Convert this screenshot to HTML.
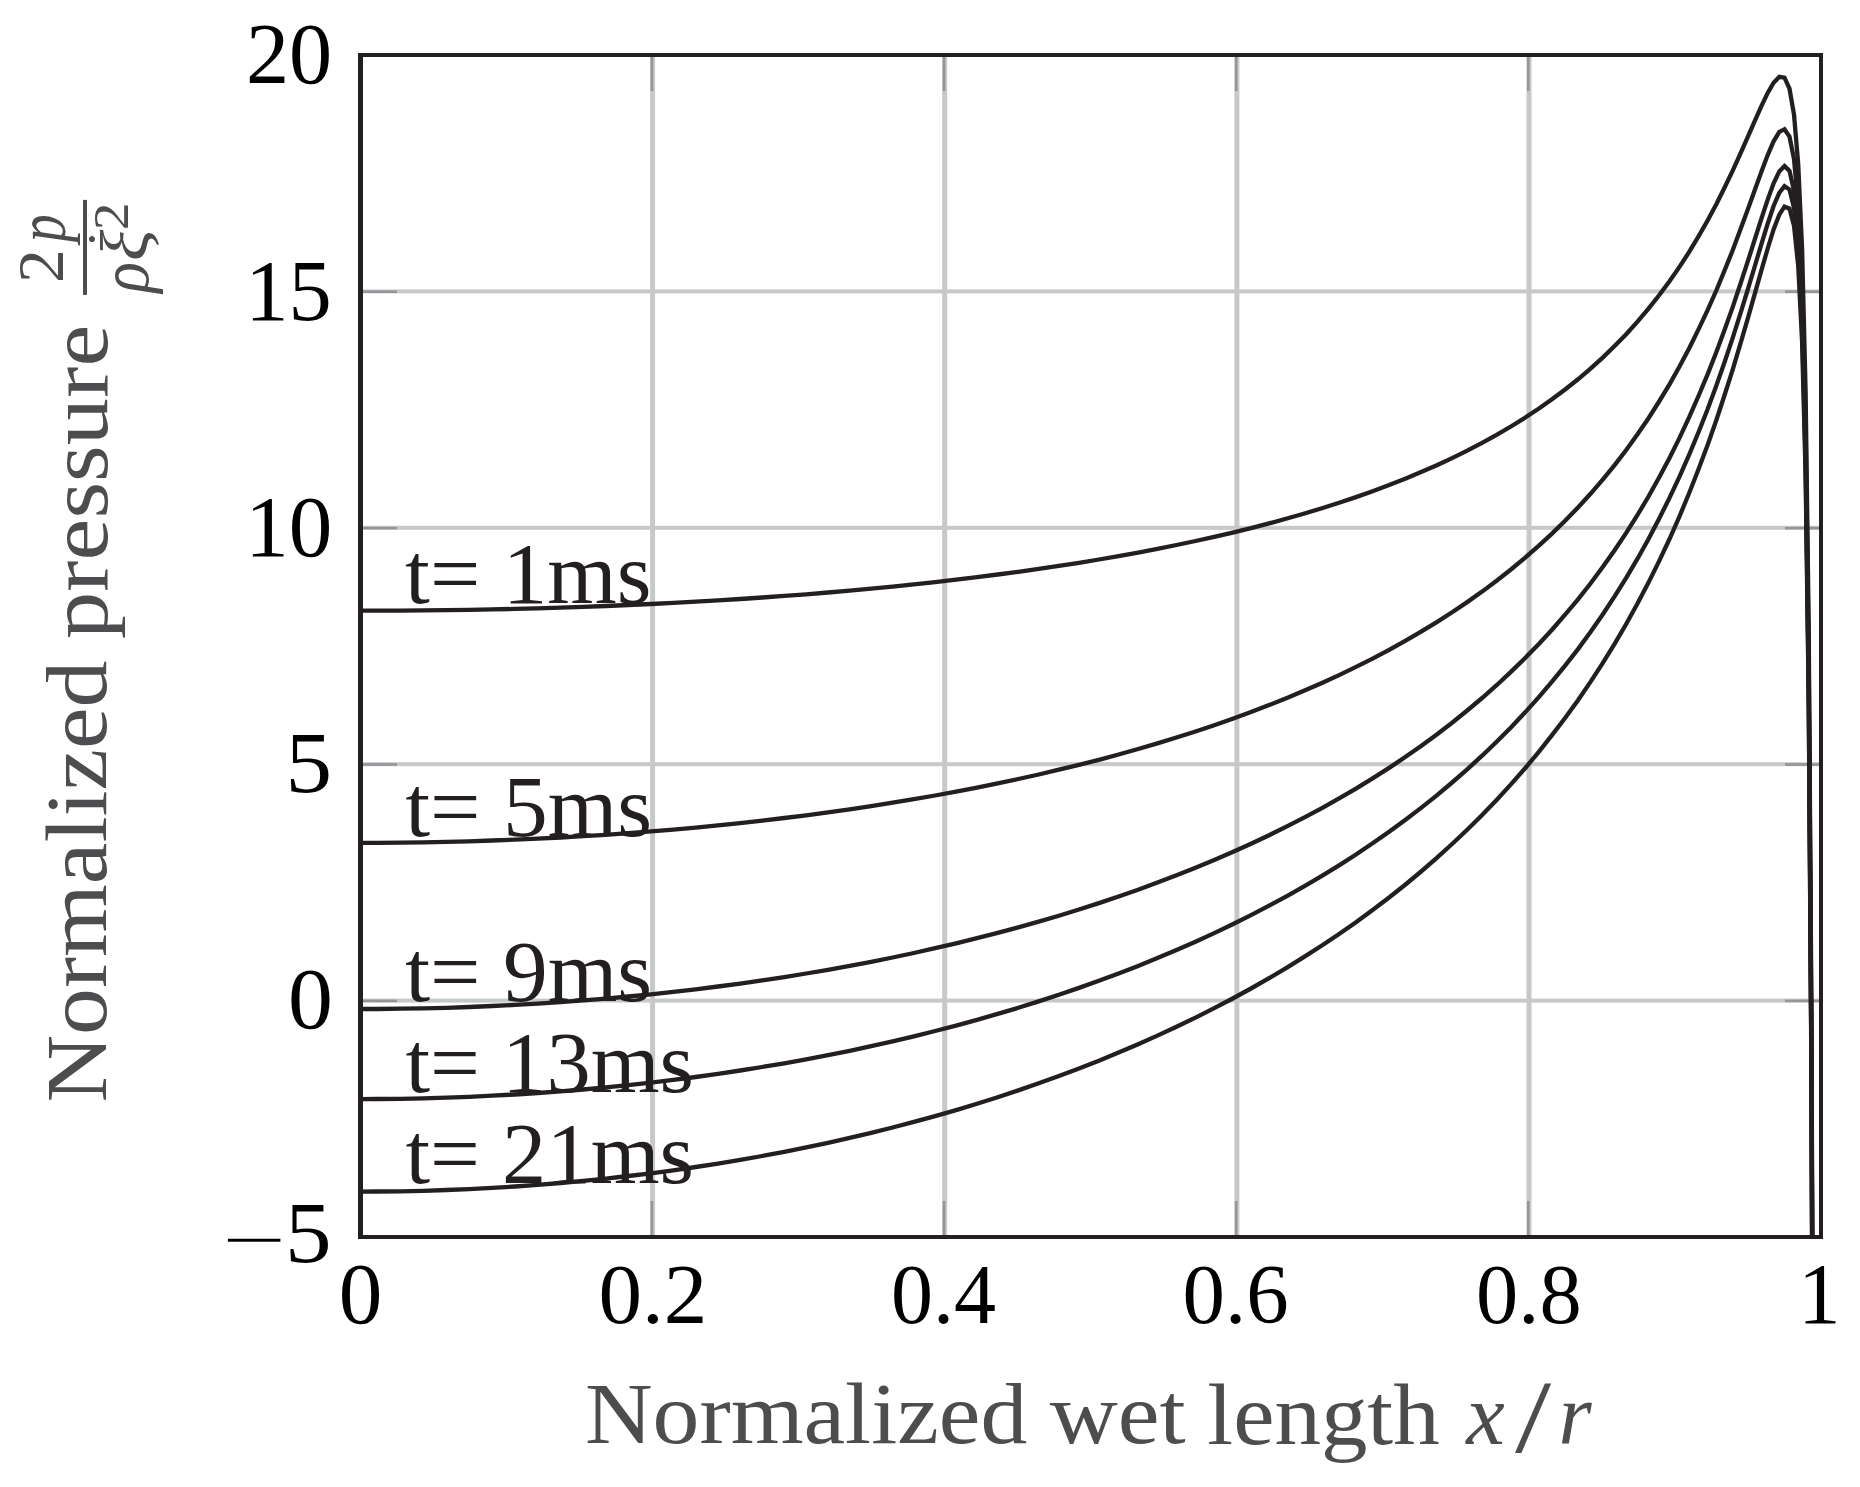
<!DOCTYPE html>
<html lang="en"><head><meta charset="utf-8"><title>Normalized pressure vs normalized wet length</title>
<style>
html,body{margin:0;padding:0;background:#fff}
svg{display:block}
text{font-family:'Liberation Serif', serif;white-space:pre}
.i{font-style:italic}
</style></head><body>
<svg width="1860" height="1487" viewBox="0 0 1860 1487">
<rect width="1860" height="1487" fill="#fff"/>
<defs><clipPath id="pa"><rect x="358" y="53" width="1465" height="1186"/></clipPath></defs>
<g fill="#c7c8ca"><rect x="650.1" y="55" width="5" height="1182"/><rect x="942.2" y="55" width="5" height="1182"/><rect x="1234.4" y="55" width="5" height="1182"/><rect x="1526.5" y="55" width="5" height="1182"/><rect x="360" y="289.4" width="1461" height="4"/><rect x="360" y="525.8" width="1461" height="4"/><rect x="360" y="762.2" width="1461" height="4"/><rect x="360" y="998.6" width="1461" height="4"/></g>
<g fill="#939598"><rect x="650.6" y="56" width="2.6" height="35.0"/><rect x="650.6" y="1201.0" width="2.6" height="35.0"/><rect x="942.7" y="56" width="2.6" height="35.0"/><rect x="942.7" y="1201.0" width="2.6" height="35.0"/><rect x="1234.9" y="56" width="2.6" height="35.0"/><rect x="1234.9" y="1201.0" width="2.6" height="35.0"/><rect x="1527.0" y="56" width="2.6" height="35.0"/><rect x="1527.0" y="1201.0" width="2.6" height="35.0"/><rect x="362" y="290.4" width="35.0" height="2.6"/><rect x="1785.0" y="290.4" width="35.0" height="2.6"/><rect x="362" y="526.8" width="35.0" height="2.6"/><rect x="1785.0" y="526.8" width="35.0" height="2.6"/><rect x="362" y="763.2" width="35.0" height="2.6"/><rect x="1785.0" y="763.2" width="35.0" height="2.6"/><rect x="362" y="999.6" width="35.0" height="2.6"/><rect x="1785.0" y="999.6" width="35.0" height="2.6"/></g>
<g><text transform="matrix(1.0388 0 0 1.0101 405.11 602.83)" font-size="86" fill="#231f20">t= 1ms</text><text transform="matrix(1.0409 0 0 1.0151 405.20 835.83)" font-size="86" fill="#231f20">t= 5ms</text><text transform="matrix(1.0409 0 0 1.0051 405.20 1000.94)" font-size="86" fill="#231f20">t= 9ms</text><text transform="matrix(1.0299 0 0 1.0051 405.41 1091.64)" font-size="86" fill="#231f20">t= 13ms</text><text transform="matrix(1.0299 0 0 1.0051 405.41 1183.44)" font-size="86" fill="#231f20">t= 21ms</text></g>
<g clip-path="url(#pa)" fill="none" stroke="#231f20" stroke-width="4.3" stroke-linejoin="miter" stroke-miterlimit="10"><polyline points="360.4,610.7 377.5,610.7 400.4,610.6 423.4,610.4 446.3,610.2 469.2,609.8 492.0,609.4 514.9,608.9 537.7,608.3 560.4,607.6 583.1,606.8 605.8,606.0 628.3,605.0 650.9,604.0 673.3,602.9 695.7,601.7 718.0,600.4 740.2,599.0 762.3,597.5 784.3,595.9 806.2,594.3 828.0,592.5 849.7,590.6 871.2,588.6 892.6,586.6 913.9,584.4 935.1,582.1 956.1,579.7 977.0,577.2 997.7,574.5 1018.3,571.8 1038.7,568.9 1058.9,565.9 1079.0,562.8 1098.9,559.5 1118.6,556.1 1138.1,552.6 1157.4,548.9 1176.5,545.0 1195.5,541.0 1214.2,536.9 1232.7,532.6 1251.0,528.1 1269.1,523.4 1286.9,518.5 1304.5,513.5 1321.9,508.2 1339.1,502.8 1356.0,497.1 1372.6,491.2 1389.1,485.1 1405.2,478.7 1421.1,472.1 1436.8,465.3 1452.1,458.1 1467.2,450.7 1482.1,442.9 1496.6,434.9 1510.9,426.5 1524.9,417.8 1538.6,408.8 1552.0,399.3 1565.1,389.5 1578.0,379.3 1590.5,368.7 1602.7,357.6 1614.6,346.1 1626.2,334.2 1637.5,321.7 1648.5,308.7 1659.1,295.3 1669.5,281.3 1679.5,266.9 1689.2,251.9 1698.5,236.4 1707.6,220.5 1716.3,204.2 1724.6,187.5 1732.7,170.7 1740.3,153.8 1747.7,137.1 1754.7,121.1 1761.4,106.1 1767.7,92.9 1773.6,82.7 1779.3,76.9 1784.5,77.7 1789.5,88.6 1794.0,114.6 1798.2,163.8 1802.1,248.8 1805.6,390.8 1808.7,626.2 1811.5,1021.7 1814.0,1706.9 1816.0,2891.8 1817.7,2891.8 1819.1,2891.8 1820.1,2891.8 1820.7,2891.8"/><polyline points="360.4,842.8 377.5,842.8 400.4,842.6 423.4,842.3 446.3,841.8 469.2,841.3 492.0,840.5 514.9,839.7 537.7,838.6 560.4,837.5 583.1,836.2 605.8,834.8 628.3,833.2 650.9,831.4 673.3,829.6 695.7,827.6 718.0,825.4 740.2,823.1 762.3,820.6 784.3,818.0 806.2,815.3 828.0,812.4 849.7,809.3 871.2,806.1 892.6,802.7 913.9,799.2 935.1,795.5 956.1,791.6 977.0,787.6 997.7,783.4 1018.3,779.0 1038.7,774.5 1058.9,769.7 1079.0,764.8 1098.9,759.8 1118.6,754.5 1138.1,749.0 1157.4,743.4 1176.5,737.5 1195.5,731.5 1214.2,725.2 1232.7,718.7 1251.0,712.0 1269.1,705.1 1286.9,698.0 1304.5,690.6 1321.9,683.0 1339.1,675.1 1356.0,666.9 1372.6,658.6 1389.1,649.9 1405.2,640.9 1421.1,631.7 1436.8,622.1 1452.1,612.3 1467.2,602.1 1482.1,591.6 1496.6,580.7 1510.9,569.5 1524.9,557.9 1538.6,545.9 1552.0,533.6 1565.1,520.8 1578.0,507.5 1590.5,493.8 1602.7,479.7 1614.6,465.1 1626.2,450.0 1637.5,434.3 1648.5,418.2 1659.1,401.5 1669.5,384.3 1679.5,366.5 1689.2,348.2 1698.5,329.4 1707.6,310.2 1716.3,290.5 1724.6,270.4 1732.7,250.2 1740.3,229.8 1747.7,209.7 1754.7,190.2 1761.4,171.7 1767.7,155.1 1773.6,141.3 1779.3,131.9 1784.5,129.2 1789.5,136.6 1794.0,159.0 1798.2,204.6 1802.1,286.0 1805.6,424.4 1808.7,656.2 1811.5,1048.1 1814.0,1729.7 1816.0,2891.8 1817.7,2891.8 1819.1,2891.8 1820.1,2891.8 1820.7,2891.8"/><polyline points="360.4,1009.0 377.5,1009.0 400.4,1008.7 423.4,1008.3 446.3,1007.8 469.2,1007.0 492.0,1006.0 514.9,1004.9 537.7,1003.6 560.4,1002.1 583.1,1000.4 605.8,998.6 628.3,996.5 650.9,994.3 673.3,991.9 695.7,989.3 718.0,986.5 740.2,983.6 762.3,980.4 784.3,977.1 806.2,973.5 828.0,969.8 849.7,965.9 871.2,961.8 892.6,957.5 913.9,953.0 935.1,948.2 956.1,943.3 977.0,938.2 997.7,932.9 1018.3,927.4 1038.7,921.6 1058.9,915.7 1079.0,909.5 1098.9,903.1 1118.6,896.5 1138.1,889.7 1157.4,882.6 1176.5,875.3 1195.5,867.8 1214.2,860.0 1232.7,852.0 1251.0,843.7 1269.1,835.2 1286.9,826.4 1304.5,817.4 1321.9,808.1 1339.1,798.4 1356.0,788.6 1372.6,778.4 1389.1,767.9 1405.2,757.1 1421.1,745.9 1436.8,734.5 1452.1,722.7 1467.2,710.5 1482.1,698.0 1496.6,685.2 1510.9,671.9 1524.9,658.2 1538.6,644.2 1552.0,629.7 1565.1,614.7 1578.0,599.3 1590.5,583.5 1602.7,567.1 1614.6,550.2 1626.2,532.9 1637.5,515.0 1648.5,496.5 1659.1,477.5 1669.5,458.0 1679.5,437.9 1689.2,417.2 1698.5,396.0 1707.6,374.4 1716.3,352.3 1724.6,329.8 1732.7,307.1 1740.3,284.3 1747.7,261.7 1754.7,239.7 1761.4,218.7 1767.7,199.6 1773.6,183.3 1779.3,171.4 1784.5,166.1 1789.5,170.9 1794.0,190.8 1798.2,233.8 1802.1,312.7 1805.6,448.5 1808.7,677.7 1811.5,1067.0 1814.0,1746.0 1816.0,2891.8 1817.7,2891.8 1819.1,2891.8 1820.1,2891.8 1820.7,2891.8"/><polyline points="360.4,1099.1 377.5,1099.0 400.4,1098.8 423.4,1098.3 446.3,1097.7 469.2,1096.8 492.0,1095.7 514.9,1094.5 537.7,1093.0 560.4,1091.3 583.1,1089.5 605.8,1087.4 628.3,1085.1 650.9,1082.6 673.3,1079.9 695.7,1077.0 718.0,1073.9 740.2,1070.5 762.3,1067.0 784.3,1063.3 806.2,1059.3 828.0,1055.1 849.7,1050.8 871.2,1046.2 892.6,1041.3 913.9,1036.3 935.1,1031.0 956.1,1025.6 977.0,1019.9 997.7,1013.9 1018.3,1007.8 1038.7,1001.4 1058.9,994.8 1079.0,987.9 1098.9,980.8 1118.6,973.5 1138.1,965.9 1157.4,958.1 1176.5,950.0 1195.5,941.7 1214.2,933.1 1232.7,924.3 1251.0,915.1 1269.1,905.7 1286.9,896.1 1304.5,886.1 1321.9,875.9 1339.1,865.3 1356.0,854.5 1372.6,843.3 1389.1,831.8 1405.2,820.0 1421.1,807.9 1436.8,795.4 1452.1,782.5 1467.2,769.3 1482.1,755.7 1496.6,741.8 1510.9,727.4 1524.9,712.6 1538.6,697.4 1552.0,681.7 1565.1,665.6 1578.0,649.1 1590.5,632.0 1602.7,614.5 1614.6,596.4 1626.2,577.8 1637.5,558.7 1648.5,539.0 1659.1,518.7 1669.5,497.9 1679.5,476.6 1689.2,454.6 1698.5,432.2 1707.6,409.2 1716.3,385.7 1724.6,362.0 1732.7,337.9 1740.3,313.8 1747.7,289.9 1754.7,266.5 1761.4,244.2 1767.7,223.7 1773.6,206.0 1779.3,192.8 1784.5,186.1 1789.5,189.5 1794.0,208.1 1798.2,249.7 1802.1,327.1 1805.6,461.5 1808.7,689.4 1811.5,1077.2 1814.0,1754.8 1816.0,2891.8 1817.7,2891.8 1819.1,2891.8 1820.1,2891.8 1820.7,2891.8"/><polyline points="360.4,1191.6 377.5,1191.5 400.4,1191.3 423.4,1190.8 446.3,1190.0 469.2,1189.1 492.0,1187.9 514.9,1186.5 537.7,1184.8 560.4,1183.0 583.1,1180.9 605.8,1178.6 628.3,1176.0 650.9,1173.3 673.3,1170.3 695.7,1167.0 718.0,1163.6 740.2,1159.9 762.3,1156.0 784.3,1151.8 806.2,1147.4 828.0,1142.8 849.7,1137.9 871.2,1132.8 892.6,1127.5 913.9,1121.9 935.1,1116.1 956.1,1110.1 977.0,1103.7 997.7,1097.2 1018.3,1090.4 1038.7,1083.3 1058.9,1076.0 1079.0,1068.5 1098.9,1060.7 1118.6,1052.6 1138.1,1044.3 1157.4,1035.6 1176.5,1026.8 1195.5,1017.6 1214.2,1008.2 1232.7,998.5 1251.0,988.5 1269.1,978.2 1286.9,967.6 1304.5,956.7 1321.9,945.5 1339.1,934.0 1356.0,922.2 1372.6,910.0 1389.1,897.5 1405.2,884.7 1421.1,871.5 1436.8,857.9 1452.1,844.0 1467.2,829.7 1482.1,815.0 1496.6,799.9 1510.9,784.4 1524.9,768.5 1538.6,752.1 1552.0,735.2 1565.1,718.0 1578.0,700.2 1590.5,681.9 1602.7,663.1 1614.6,643.8 1626.2,624.0 1637.5,603.6 1648.5,582.6 1659.1,561.1 1669.5,539.0 1679.5,516.3 1689.2,493.0 1698.5,469.2 1707.6,444.9 1716.3,420.2 1724.6,395.0 1732.7,369.6 1740.3,344.1 1747.7,318.8 1754.7,294.1 1761.4,270.4 1767.7,248.5 1773.6,229.4 1779.3,214.7 1784.5,206.7 1789.5,208.7 1794.0,225.8 1798.2,265.9 1802.1,341.9 1805.6,474.9 1808.7,701.3 1811.5,1087.7 1814.0,1763.9 1816.0,2891.8 1817.7,2891.8 1819.1,2891.8 1820.1,2891.8 1820.7,2891.8"/></g>
<g fill="#231f20"><rect x="358" y="53" width="5" height="1186"/><rect x="1819" y="53" width="4" height="1186"/><rect x="358" y="53" width="1465" height="4"/><rect x="358" y="1235" width="1465" height="4"/></g>
<g><text transform="matrix(1.0035 0 0 1.0085 245.96 83.13)" font-size="86" fill="#000">20</text><text transform="matrix(1.0052 0 0 1.0118 245.21 320.23)" font-size="86" fill="#000">15</text><text transform="matrix(1.0134 0 0 1.0068 245.15 556.13)" font-size="86" fill="#000">10</text><text transform="matrix(1.0840 0 0 1.0134 285.52 792.33)" font-size="86" fill="#000">5</text><text transform="matrix(1.0438 0 0 1.0033 288.01 1028.34)" font-size="86" fill="#000">0</text><text transform="matrix(1.3131 0 0 0.6977 222.35 1260.30)" font-size="86" fill="#000">−</text><text transform="matrix(1.0840 0 0 1.0099 285.12 1262.03)" font-size="86" fill="#000">5</text><text transform="matrix(1.0138 0 0 0.9964 338.70 1323.04)" font-size="86" fill="#000">0</text><text transform="matrix(1.0133 0 0 0.9950 598.50 1322.96)" font-size="86" fill="#000">0.2</text><text transform="matrix(0.9775 0 0 0.9950 891.02 1322.96)" font-size="86" fill="#000">0.4</text><text transform="matrix(0.9876 0 0 0.9950 1182.49 1322.96)" font-size="86" fill="#000">0.6</text><text transform="matrix(0.9813 0 0 0.9950 1476.11 1322.96)" font-size="86" fill="#000">0.8</text><text transform="matrix(0.9906 0 0 1.0025 1798.12 1323.30)" font-size="86" fill="#000">1</text><text transform="matrix(1.0898 0 0 1.0118 584.89 1443.33)" font-size="86" fill="#4d4d4f">Normalized</text><text transform="matrix(1.0943 0 0 1.0080 1049.80 1443.33)" font-size="86" fill="#4d4d4f">wet</text><text transform="matrix(1.0809 0 0 1.0210 1207.34 1443.88)" font-size="86" fill="#4d4d4f">length</text><text class="i" transform="matrix(1.0078 0 0 1.0187 1466.16 1443.60)" font-size="86" fill="#4d4d4f">x</text><text transform="matrix(1.5130 0 0 1.2149 1515.00 1451.76)" font-size="86" fill="#4d4d4f">/</text><text class="i" transform="matrix(0.9900 0 0 1.0020 1558.59 1443.50)" font-size="86" fill="#4d4d4f">r</text></g>
<g transform="translate(106.3 1100) rotate(-90)"><text transform="matrix(1.0885 0 0 1.0151 -2.51 0.03)" font-size="86" fill="#4d4d4f">Normalized</text><text transform="matrix(1.0972 0 0 0.9938 460.93 0.27)" font-size="86" fill="#4d4d4f">pressure</text><text transform="matrix(0.7849 0 0 0.7713 817.08 -43.30)" font-size="86" fill="#4d4d4f">2</text><text class="i" transform="matrix(0.6469 0 0 0.8219 857.85 -41.18)" font-size="86" fill="#4d4d4f">p</text><text class="i" transform="matrix(0.7419 0 0 0.8015 807.29 42.10)" font-size="86" fill="#4d4d4f">ρ</text><text class="i" transform="matrix(0.8514 0 0 0.7909 838.96 41.58)" font-size="86" fill="#4d4d4f">ξ</text><text transform="matrix(0.6541 0 0 0.6541 851.52 21.01)" font-size="86" fill="#4d4d4f">˙</text><text transform="matrix(0.6453 0 0 0.5995 869.70 21.80)" font-size="86" fill="#4d4d4f">2</text><rect x="805.1" y="-23.3" width="95" height="4" fill="#4d4d4f"/></g>
</svg></body></html>
